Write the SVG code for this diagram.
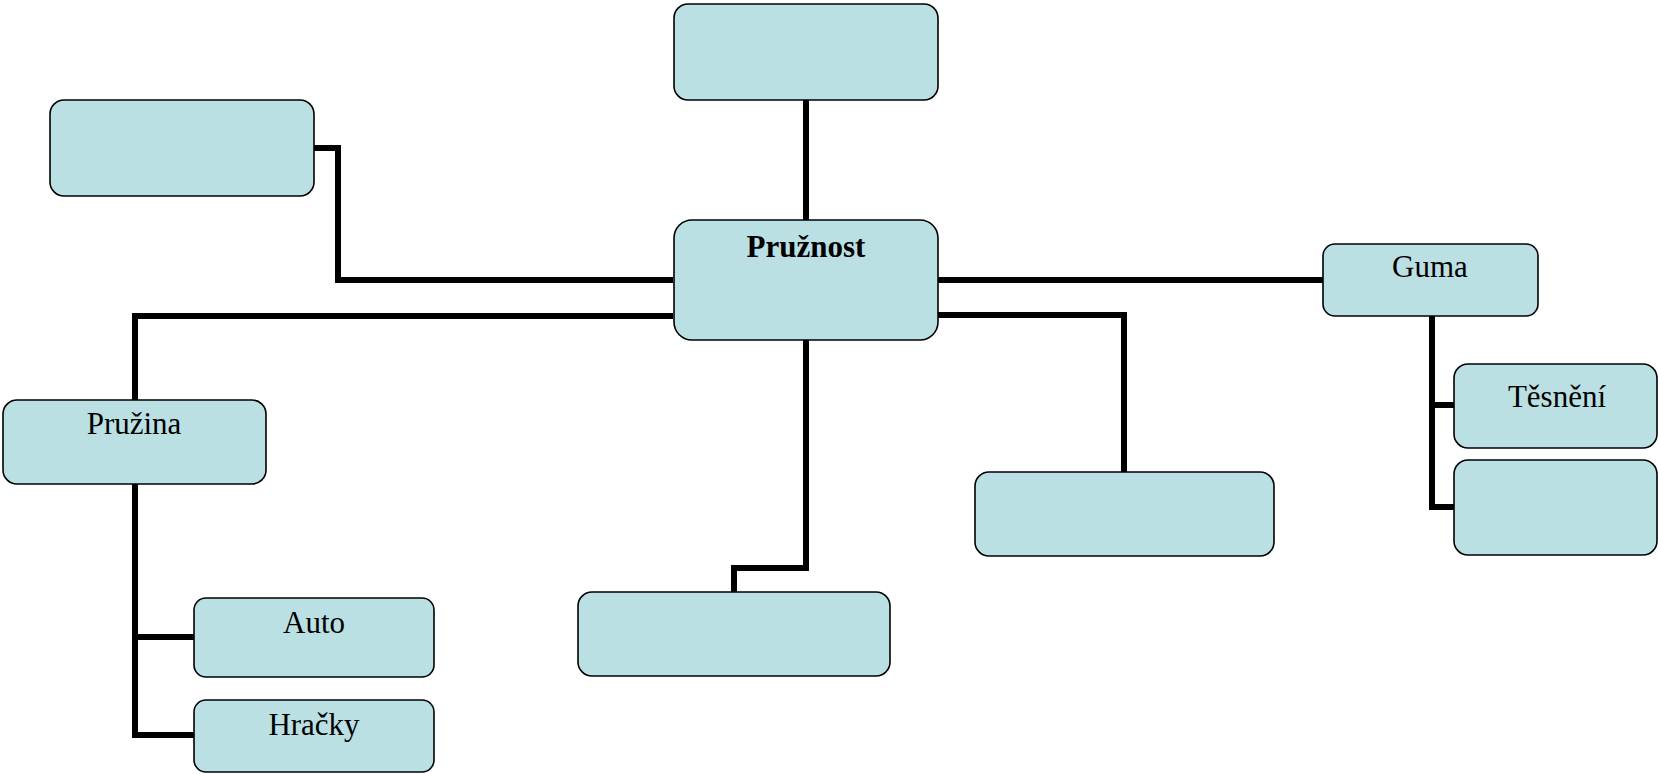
<svg xmlns="http://www.w3.org/2000/svg" width="1658" height="774" viewBox="0 0 1658 774">
  <style>
    .box { fill: #bbe0e3; stroke: #000; stroke-width: 1.6; }
    .lbl { font-family: "Liberation Serif", "Times New Roman", serif; font-size: 31px; fill: #000; text-anchor: middle; }
    .bold { font-weight: bold; }
    .wire { fill: none; stroke: #000; stroke-width: 6; stroke-linejoin: miter; stroke-linecap: butt; }
  </style>
  <rect width="1658" height="774" fill="#fff"/>

  <!-- connectors -->
  <g id="connectors">
    <path class="wire" d="M806,100 V220"/>
    <path class="wire" d="M314,148 H338 V280 H673"/>
    <path class="wire" d="M673,316 H135 V400"/>
    <path class="wire" d="M135,484 V735 H194"/>
    <path class="wire" d="M135,637 H194"/>
    <path class="wire" d="M938,280 H1323"/>
    <path class="wire" d="M1432,316 V507 H1454"/>
    <path class="wire" d="M1432,405 H1454"/>
    <path class="wire" d="M938,315 H1124 V472"/>
    <path class="wire" d="M806,340 V568 H734 V592"/>
  </g>

  <!-- nodes -->
  <g id="node-top">
    <rect class="box" x="674" y="4" width="264" height="96" rx="14"/>
  </g>
  <g id="node-topleft">
    <rect class="box" x="50" y="100" width="264" height="96" rx="14"/>
  </g>
  <g id="node-pruznost">
    <rect class="box" x="674" y="220" width="264" height="120" rx="18"/>
    <text class="lbl bold" x="806" y="257">Pružnost</text>
  </g>
  <g id="node-guma">
    <rect class="box" x="1323" y="244" width="215" height="72" rx="12"/>
    <text class="lbl" x="1430" y="277">Guma</text>
  </g>
  <g id="node-tesneni">
    <rect class="box" x="1454" y="364" width="203" height="84" rx="14"/>
    <text class="lbl" x="1557" y="407">Těsnění</text>
  </g>
  <g id="node-guma-2">
    <rect class="box" x="1454" y="460" width="203" height="95" rx="14"/>
  </g>
  <g id="node-pruzina">
    <rect class="box" x="3" y="400" width="263" height="84" rx="14"/>
    <text class="lbl" x="134" y="434">Pružina</text>
  </g>
  <g id="node-auto">
    <rect class="box" x="194" y="598" width="240" height="79" rx="12"/>
    <text class="lbl" x="314" y="633">Auto</text>
  </g>
  <g id="node-hracky">
    <rect class="box" x="194" y="700" width="240" height="72" rx="12"/>
    <text class="lbl" x="314" y="735">Hračky</text>
  </g>
  <g id="node-bottom">
    <rect class="box" x="578" y="592" width="312" height="84" rx="14"/>
  </g>
  <g id="node-right">
    <rect class="box" x="975" y="472" width="299" height="84" rx="14"/>
  </g>
</svg>
